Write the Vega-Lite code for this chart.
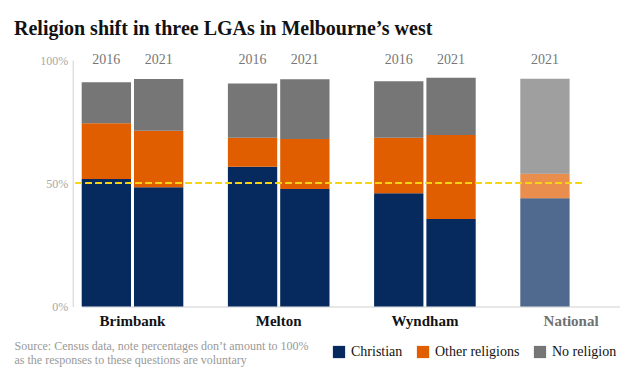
{
  "$schema": "https://vega.github.io/schema/vega-lite/v6.json",
  "autosize": "none",
  "width": 509,
  "height": 246.5,
  "padding": {"left": 72.7, "top": 60, "right": 38.3, "bottom": 65.5},
  "background": "white",
  "title": {
    "text": "Religion shift in three LGAs in Melbourne’s west",
    "anchor": "start",
    "frame": "group",
    "dx": -58.7,
    "offset": 14,
    "font": "Liberation Serif",
    "fontSize": 20,
    "fontWeight": "bold",
    "color": "#121212"
  },
  "data": {
    "values": [
      {"lga": "Brimbank", "year": "2016", "religion": "Christian", "pct": 51.7},
      {"lga": "Brimbank", "year": "2016", "religion": "Other religions", "pct": 22.6},
      {"lga": "Brimbank", "year": "2016", "religion": "No religion", "pct": 16.7},
      {"lga": "Brimbank", "year": "2021", "religion": "Christian", "pct": 48.4},
      {"lga": "Brimbank", "year": "2021", "religion": "Other religions", "pct": 22.9},
      {"lga": "Brimbank", "year": "2021", "religion": "No religion", "pct": 21.0},
      {"lga": "Melton", "year": "2016", "religion": "Christian", "pct": 56.7},
      {"lga": "Melton", "year": "2016", "religion": "Other religions", "pct": 11.8},
      {"lga": "Melton", "year": "2016", "religion": "No religion", "pct": 22.0},
      {"lga": "Melton", "year": "2021", "religion": "Christian", "pct": 47.7},
      {"lga": "Melton", "year": "2021", "religion": "Other religions", "pct": 20.3},
      {"lga": "Melton", "year": "2021", "religion": "No religion", "pct": 24.2},
      {"lga": "Wyndham", "year": "2016", "religion": "Christian", "pct": 45.9},
      {"lga": "Wyndham", "year": "2016", "religion": "Other religions", "pct": 22.6},
      {"lga": "Wyndham", "year": "2016", "religion": "No religion", "pct": 22.9},
      {"lga": "Wyndham", "year": "2021", "religion": "Christian", "pct": 35.5},
      {"lga": "Wyndham", "year": "2021", "religion": "Other religions", "pct": 34.1},
      {"lga": "Wyndham", "year": "2021", "religion": "No religion", "pct": 23.2},
      {"lga": "National", "year": "2021", "religion": "Christian", "pct": 43.9},
      {"lga": "National", "year": "2021", "religion": "Other religions", "pct": 10.0},
      {"lga": "National", "year": "2021", "religion": "No religion", "pct": 38.5}
    ]
  },
  "transform": [
    {"window": [{"op": "dense_rank", "as": "slot"}], "sort": [{"field": "year", "order": "ascending"}], "groupby": ["lga"]},
    {"calculate": "indexof(['Christian', 'Other religions', 'No religion'], datum.religion)", "as": "stackOrder"}
  ],
  "layer": [
    {
      "mark": {"type": "bar"},
      "encoding": {
        "x": {
          "field": "lga",
          "type": "nominal",
          "sort": ["Brimbank", "Melton", "Wyndham", "National"],
          "scale": {"range": [9, 549.2], "paddingInner": 0.305, "paddingOuter": 0},
          "axis": {
            "labelAngle": 0,
            "ticks": false,
            "domain": true,
            "domainColor": "#d0d0d0",
            "domainWidth": 1,
            "labelFont": "Liberation Serif",
            "labelFontSize": 15,
            "labelFontWeight": "bold",
            "labelColor": {"condition": {"test": "datum.value === 'National'", "value": "#707070"}, "value": "#121212"},
            "labelPadding": 7,
            "title": ["Source: Census data, note percentages don’t amount to 100%", "as the responses to these questions are voluntary"],
            "titleX": -58.7,
            "titleY": 34,
            "titleAlign": "left",
            "titleAnchor": "start",
            "titleBaseline": "top",
            "titleFont": "Liberation Serif",
            "titleFontSize": 12,
            "titleFontWeight": "normal",
            "titleColor": "#999999",
            "titleLineHeight": 14
          }
        },
        "xOffset": {"field": "slot", "type": "ordinal", "scale": {"paddingInner": 0.057, "paddingOuter": 0}},
        "y": {
          "field": "pct",
          "type": "quantitative",
          "stack": "zero",
          "scale": {"domain": [0, 100]},
          "axis": {
            "values": [0, 50, 100],
            "labelExpr": "datum.value + '%'",
            "grid": false,
            "ticks": false,
            "domainColor": "#d0d0d0",
            "labelFont": "Liberation Serif",
            "labelFontSize": 12,
            "labelColor": "#a8a8a8",
            "labelPadding": 5,
            "title": null
          }
        },
        "order": {"field": "stackOrder", "type": "quantitative", "sort": "ascending"},
        "color": {
          "field": "religion",
          "type": "nominal",
          "sort": ["Christian", "Other religions", "No religion"],
          "scale": {"domain": ["Christian", "Other religions", "No religion"], "range": ["#06295e", "#e05e00", "#767676"]},
          "legend": {
            "orient": "none",
            "direction": "horizontal",
            "legendX": 259.3,
            "legendY": 285,
            "title": null,
            "symbolType": "square",
            "symbolSize": 150,
            "symbolStrokeWidth": 0,
            "labelFont": "Liberation Serif",
            "labelFontSize": 14,
            "labelColor": "#121212",
            "labelOffset": 5,
            "columnPadding": 13,
            "padding": 0
          }
        },
        "opacity": {"condition": {"test": "datum.lga === 'National'", "value": 0.7}, "value": 1}
      }
    },
    {
      "transform": [{"filter": "datum.religion === 'Christian'"}],
      "mark": {"type": "text", "baseline": "middle", "font": "Liberation Serif", "fontSize": 14, "color": "#777777"},
      "encoding": {
        "x": {"field": "lga", "type": "nominal", "sort": ["Brimbank", "Melton", "Wyndham", "National"]},
        "xOffset": {"field": "slot", "type": "ordinal"},
        "y": {"datum": 100, "type": "quantitative"},
        "text": {"field": "year"}
      }
    },
    {
      "mark": {"type": "rule", "color": "#f7d417", "strokeDash": [6, 4], "strokeWidth": 1},
      "encoding": {"y": {"datum": 50, "type": "quantitative"}}
    }
  ],
  "config": {"view": {"stroke": null}}
}
